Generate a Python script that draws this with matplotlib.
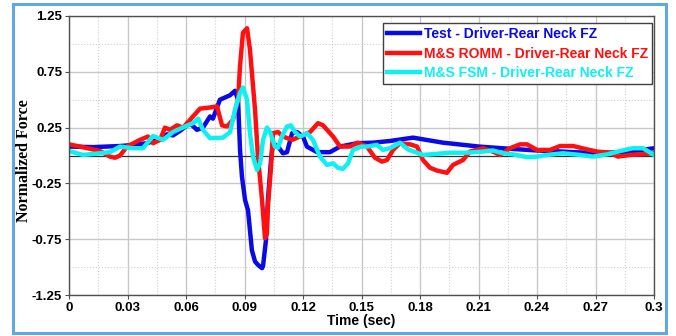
import numpy as np
from matplotlib import pyplot as plt
from matplotlib.patches import Rectangle

# Test - Driver-Rear Neck FZ
test_t = [0, 0.0123, 0.0262, 0.0297, 0.040, 0.0467, 0.0503, 0.0533, 0.0569, 0.0605,
          0.062, 0.0656, 0.0687, 0.0723, 0.0738, 0.0774, 0.0826, 0.0851, 0.0867, 0.0877,
          0.0887, 0.0903, 0.0918, 0.0938, 0.0954, 0.0969, 0.099, 0.0995, 0.101, 0.102,
          0.1036, 0.1046, 0.1072, 0.1097, 0.1118, 0.1144, 0.1169, 0.12, 0.122, 0.1272,
          0.1338, 0.139, 0.1477, 0.1559, 0.1646, 0.1764, 0.1918, 0.2103, 0.2262, 0.24,
          0.2533, 0.2708, 0.2877, 0.3]
test_f = [0.08, 0.075, 0.085, 0.09, 0.11, 0.15, 0.19, 0.18, 0.22, 0.27,
          0.29, 0.23, 0.25, 0.35, 0.33, 0.5, 0.54, 0.58, 0.5, 0.05,
          -0.19, -0.4, -0.49, -0.85, -0.95, -0.98, -1.01, -0.99, -0.76, -0.4,
          -0.04, 0.11, 0.08, 0.02, 0.03, 0.2, 0.21, 0.17, 0.08, 0.03,
          0.03, 0.08, 0.11, 0.115, 0.13, 0.16, 0.115, 0.08, 0.06, 0.045,
          0.035, 0.02, 0.035, 0.065]

# M&S ROMM - Driver-Rear Neck FZ
romm_t = [0, 0.0056, 0.0159, 0.021, 0.0236, 0.0262, 0.0297, 0.0364, 0.0405, 0.0431,
          0.0467, 0.0492, 0.0518, 0.0554, 0.0585, 0.0636, 0.0672, 0.0723, 0.0759, 0.0785,
          0.081, 0.0841, 0.0867, 0.0877, 0.0892, 0.0913, 0.0928, 0.0954, 0.0969, 0.099,
          0.1005, 0.1015, 0.102, 0.1036, 0.1046, 0.1072, 0.1097, 0.1144, 0.1185, 0.1236,
          0.1277, 0.1303, 0.1354, 0.139, 0.1441, 0.1482, 0.1528, 0.1569, 0.1605, 0.1631,
          0.1662, 0.1697, 0.1749, 0.1785, 0.1815, 0.1851, 0.1887, 0.1938, 0.1969, 0.2021,
          0.2056, 0.2123, 0.2174, 0.221, 0.2262, 0.2313, 0.2349, 0.24, 0.2467, 0.2518,
          0.2585, 0.2656, 0.2708, 0.2774, 0.2815, 0.2877, 0.3]
romm_f = [0.1, 0.08, 0.04, -0.01, -0.02, 0.0, 0.08, 0.14, 0.17, 0.11,
          0.14, 0.25, 0.23, 0.27, 0.25, 0.35, 0.42, 0.43, 0.44, 0.27,
          0.26, 0.32, 0.5, 0.8, 1.1, 1.14, 0.95, 0.41, -0.01, -0.4,
          -0.74, -0.7, -0.46, -0.1, 0.2, 0.21, 0.17, 0.14, 0.17, 0.21,
          0.29, 0.27, 0.17, 0.08, 0.08, 0.115, 0.08, -0.02, -0.055, -0.04,
          0.05, 0.11, 0.1, 0.08, -0.04, -0.11, -0.135, -0.155, -0.085, -0.04,
          0.035, 0.065, 0.035, 0.005, 0.065, 0.1, 0.1, 0.05, 0.05, 0.085,
          0.085, 0.055, 0.035, 0.025, -0.01, 0.005, 0.02]

# M&S FSM - Driver-Rear Neck FZ
fsm_t = [0, 0.0072, 0.0159, 0.021, 0.0262, 0.0328, 0.0379, 0.0431, 0.0482, 0.0533,
         0.0595, 0.0636, 0.0662, 0.0687, 0.0723, 0.079, 0.0826, 0.0851, 0.0877, 0.0892,
         0.0913, 0.0928, 0.0944, 0.0964, 0.098, 0.0995, 0.1015, 0.1031, 0.1056, 0.1072,
         0.1092, 0.1118, 0.1138, 0.1159, 0.1185, 0.122, 0.1251, 0.1287, 0.1323, 0.1354,
         0.1379, 0.1405, 0.1431, 0.1456, 0.1497, 0.1528, 0.1579, 0.161, 0.1646, 0.1697,
         0.1738, 0.1815, 0.1887, 0.1954, 0.2041, 0.2123, 0.2174, 0.2226, 0.2277, 0.2349,
         0.24, 0.2451, 0.2533, 0.2621, 0.2687, 0.2759, 0.2826, 0.2892, 0.2944, 0.3]
fsm_f = [0.04, 0.005, 0.02, 0.03, 0.08, 0.065, 0.065, 0.175, 0.14, 0.21,
         0.26, 0.29, 0.33, 0.23, 0.155, 0.16, 0.21, 0.41, 0.56, 0.61,
         0.5, 0.2, -0.01, -0.13, -0.07, 0.14, 0.25, 0.21, 0.08, 0.07,
         0.17, 0.26, 0.27, 0.21, 0.17, 0.2, 0.14, -0.01, -0.085, -0.07,
         -0.11, -0.12, -0.07, 0.05, 0.08, 0.08, 0.095, 0.05, 0.065, 0.115,
         0.055, 0.005, 0.015, 0.025, 0.025, 0.035, 0.045, 0.02, 0.01, -0.015,
         -0.01, 0.005, 0.02, 0.005, -0.01, 0.01, 0.04, 0.065, 0.065, 0.005]

x_ticks = [0, 0.03, 0.06, 0.09, 0.12, 0.15, 0.18, 0.21, 0.24, 0.27, 0.3]
x_tick_labels = ['0', '0.03', '0.06', '0.09', '0.12', '0.15', '0.18', '0.21', '0.24', '0.27', '0.3']
y_ticks = [-1.25, -0.75, -0.25, 0.25, 0.75, 1.25]

plt.rcParams['font.family'] = ['Liberation Sans', 'DejaVu Sans']
plt.rcParams['axes.unicode_minus'] = False

fig = plt.figure(figsize=(6.76, 3.36), dpi=100)
ax = fig.add_axes([69/676, 41/336, 585/676, 279/336])

# light blue frame around the whole picture
fig.patches.append(Rectangle((13/676, 3/336), 653/676, 329/336, transform=fig.transFigure,
                             fill=False, edgecolor='#62a8de', linewidth=2.2))

ax.set_xlim(0, 0.3)
ax.set_ylim(-1.25, 1.25)
ax.set_xticks(x_ticks)
ax.set_xticklabels(x_tick_labels)
ax.set_yticks(y_ticks)
ax.set_yticklabels(['%.2f' % v for v in y_ticks])
ax.set_xticks(np.arange(0.015, 0.3, 0.03), minor=True)
ax.set_yticks([-1.0, -0.5, 0.5, 1.0], minor=True)
ax.tick_params(labelsize=9.5, length=3, color='#505050', pad=2)
ax.tick_params(which='minor', length=0)
for lab in ax.get_xticklabels() + ax.get_yticklabels():
    lab.set_fontweight('bold')

ax.grid(True, which='major', color='#c8c8c8', linewidth=1.0)
ax.grid(True, which='minor', color='#d0d0d0', linewidth=0.8, linestyle=':')
ax.axhline(0, color='#303030', linewidth=0.9, zorder=1.8)
for s in ax.spines.values():
    s.set_color('#505050')
    s.set_linewidth(1.0)

ax.plot(test_t, test_f, color='#0a0ae6', linewidth=3.2, solid_joinstyle='round',
        marker='.', markersize=1, markevery=1000, label='Test - Driver-Rear Neck FZ')
ax.plot(romm_t, romm_f, color='#ff1010', linewidth=3.2, solid_joinstyle='round',
        marker='.', markersize=1, markevery=1000, label='M&S ROMM - Driver-Rear Neck FZ')
ax.plot(fsm_t, fsm_f, color='#10f0f0', linewidth=3.2, solid_joinstyle='round',
        marker='.', markersize=1, markevery=1000, label='M&S FSM - Driver-Rear Neck FZ')

ax.set_xlabel('Time (sec)', fontsize=10, fontweight='bold', labelpad=0)
ax.set_ylabel('Normalized Force', fontsize=11.5, fontweight='bold',
              family=['Liberation Serif', 'DejaVu Serif'])
ax.yaxis.set_label_coords(-0.063, 0.48)

leg = ax.legend(loc='upper right', bbox_to_anchor=(0.9966, 0.975),
                prop={'weight': 'bold', 'size': 10}, fancybox=False, framealpha=1,
                edgecolor='#404040', handlelength=2.4, handletextpad=0.25,
                borderpad=0.3, labelspacing=0.4, borderaxespad=0)
leg.get_frame().set_linewidth(1.0)
for txt, line in zip(leg.get_texts(), leg.get_lines()):
    txt.set_color(line.get_color())

plt.savefig('out.png', dpi=100)
plt.close()
